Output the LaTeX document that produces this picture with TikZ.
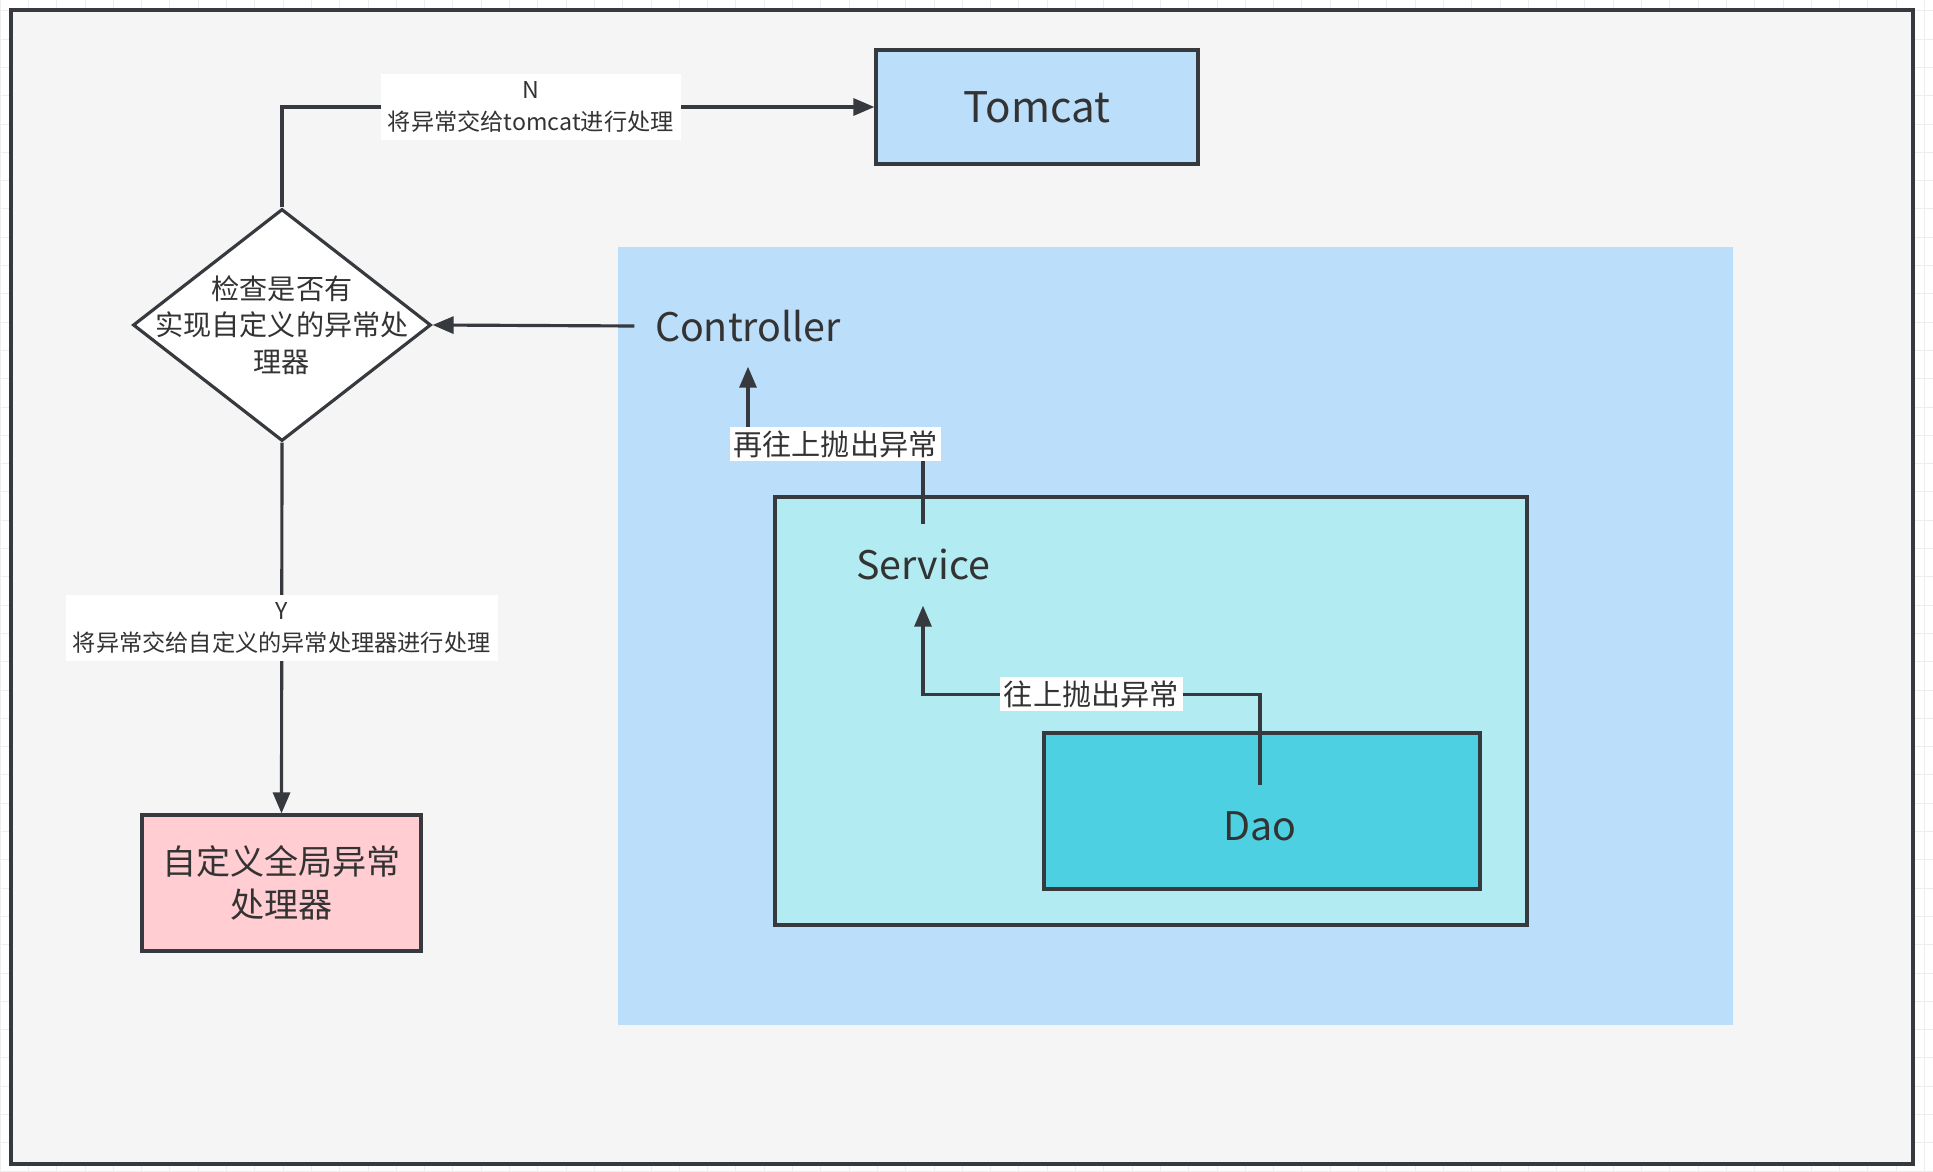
\documentclass[tikz,border=0pt]{standalone}
\usepackage{fontspec}
\setmainfont{Noto Sans CJK SC}
\usetikzlibrary{shapes.geometric,arrows.meta}

\definecolor{linecol}{HTML}{36393D}
\definecolor{txtcol}{HTML}{333333}
\definecolor{gridcol}{HTML}{EDEDED}
\definecolor{framecol}{HTML}{F5F5F5}
\definecolor{tomcatcol}{HTML}{BBDEFB}
\definecolor{layercol}{HTML}{BBDEFB}
\definecolor{servicecol}{HTML}{B2EBF2}
\definecolor{daocol}{HTML}{4DD0E1}
\definecolor{handlercol}{HTML}{FFCDD2}

\begin{document}
\begin{tikzpicture}[
  box/.style={draw=linecol, line width=0.9pt, text=txtcol},
  layertxt/.style={minimum height=0.8cm, text=txtcol, font=\fontsize{11.2}{14}\selectfont},
  tag/.style={fill=white, inner sep=1pt, text=txtcol, font=\fontsize{8.3}{10}\selectfont},
  note/.style={fill=white, inner sep=2pt, align=center, text=txtcol, font=\fontsize{6.6}{9.2}\selectfont},
  arr/.style={draw=linecol, line width=0.9pt, -{Triangle[length=0.21cm,width=0.17cm]}},
]
\useasboundingbox (0,0) rectangle (19.33,11.71);
\fill[white] (0,0) rectangle (19.33,11.71);
\draw[step=0.283cm, gridcol, very thin] (0,0) grid (19.33,11.71);
\draw[box, line width=1.1pt, fill=framecol] (0.11,0.07) rectangle (19.13,11.61);

\fill[layercol] (6.18,1.46) rectangle (17.33,9.24);
\node[box, fill=servicecol, minimum width=7.52cm, minimum height=4.28cm] (svcbox) at (11.51,4.60) {};
\node[box, fill=daocol, minimum width=4.36cm, minimum height=1.56cm] (daobox) at (12.62,3.60) {};

\node[layertxt, minimum width=2.26cm, inner xsep=0pt] (controller) at (7.48,8.45) {Controller};
\node[layertxt] (service) at (9.23,6.06) {Service};
\node[layertxt] (dao) at (12.60,3.45) {Dao};

\node[box, fill=tomcatcol, minimum width=3.22cm, minimum height=1.14cm, font=\fontsize{12}{15}\selectfont] (tomcat) at (10.37,10.64) {Tomcat};
\node[box, diamond, fill=white, minimum width=2.98cm, minimum height=2.32cm, inner sep=0pt,
  label={[align=center, text=txtcol, font=\fontsize{8}{10.4}\selectfont]center:检查是否有\\实现自定义的异常处\\理器}] (check) at (2.82,8.46) {};
\node[box, fill=handlercol, minimum width=2.79cm, minimum height=1.36cm, align=center, font=\fontsize{9.7}{12.2}\selectfont] (handler) at (2.815,2.88) {自定义全局异常\\处理器};

\draw[arr] (check.north) |- node[note, pos=0.71] {N\\将异常交给tomcat进行处理} (tomcat.west);
\draw[arr] (check.south) -- node[note] {Y\\将异常交给自定义的异常处理器进行处理} (handler.north);
\draw[arr] (controller.west) -- (check.east);
\draw[arr] (service.north) -- ++(0,0.8) -| node[tag, pos=0.25] {再往上抛出异常} (controller.south);
\draw[arr] (dao.north) -- ++(0,0.91) -| node[tag, pos=0.25] {往上抛出异常} (service.south);
\end{tikzpicture}
\end{document}
